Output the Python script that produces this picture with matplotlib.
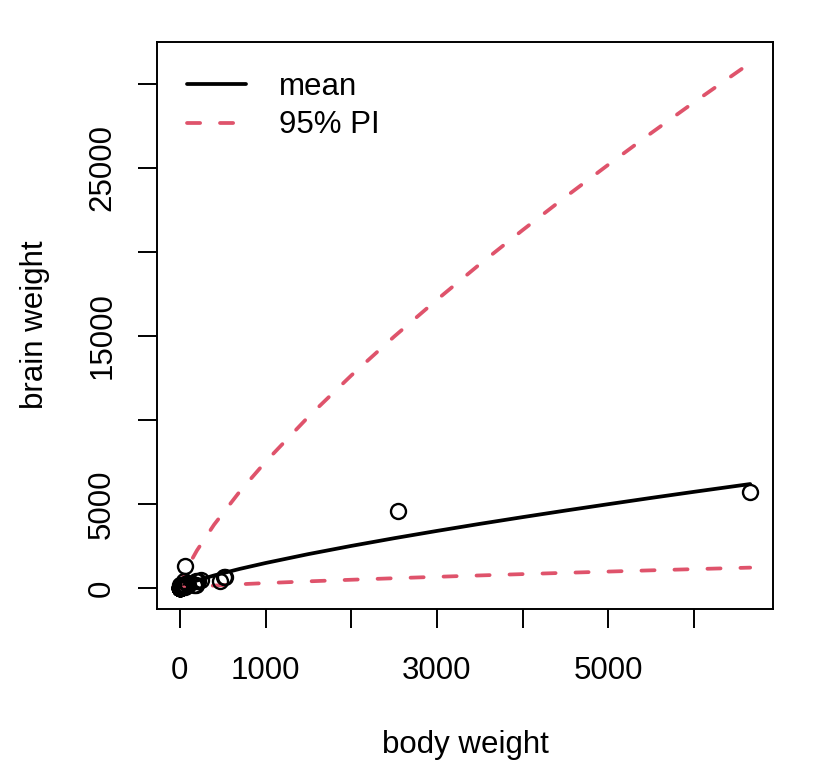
import numpy as np
import matplotlib.pyplot as plt

# ------------------------------------------------------------
# Data: mammals (body kg, brain g)
# ------------------------------------------------------------
body = [3.385, 0.48, 1.35, 465, 36.33, 27.66, 14.83, 1.04, 4.19, 0.425,
        0.101, 0.92, 1, 0.005, 0.06, 3.5, 2, 1.7, 2547, 0.023,
        187.1, 521, 0.785, 10, 3.3, 0.2, 1.41, 529, 207, 85,
        0.75, 62, 6654, 3.5, 6.8, 35, 4.05, 0.12, 0.023, 0.01,
        1.4, 250, 2.5, 55.5, 100, 52.16, 10.55, 0.55, 60, 3.6,
        4.288, 0.28, 0.075, 0.122, 0.048, 192, 3, 160, 0.9, 1.62,
        0.104, 4.235]
brain = [44.5, 15.5, 8.1, 423, 119.5, 115, 98.2, 5.5, 58, 6.4,
         4, 5.7, 6.6, 0.14, 1, 10.8, 12.3, 6.3, 4603, 0.3,
         419, 655, 3.5, 115, 25.6, 5, 17.5, 680, 406, 325,
         12.3, 1320, 5712, 3.9, 179, 56, 17, 1, 0.4, 0.25,
         12.5, 490, 12.1, 175, 157, 440, 179.5, 2.4, 81, 21,
         39.2, 1.9, 1.2, 3, 0.33, 180, 25, 169, 2.6, 11.4,
         2.5, 50.4]

# fitted curve
grid_x = [0, 5, 20, 50, 100, 200, 400, 700, 1000, 1500, 2000, 2500,
          3000, 3500, 4000, 4500, 5000, 5500, 6000, 6654]
mean_y = [0, 28, 79, 156, 263, 443, 747, 1138, 1487, 2018, 2505, 2963,
          3398, 3817, 4219, 4610, 4990, 5363, 5726, 6188]
upper_y = [0, 140, 396, 788, 1328, 2237, 3772, 5747, 7509, 10191, 12650,
           14963, 17160, 19276, 21306, 23281, 25200, 27083, 28916, 31249]
lower_y = [0, 5, 15, 31, 52, 87, 146, 223, 292, 396, 491, 581,
           666, 748, 827, 904, 978, 1052, 1123, 1213]

xticks = [0, 1000, 2000, 3000, 4000, 5000, 6000]
xlabels = ["0", "1000", "", "3000", "", "5000", ""]
yticks = [0, 5000, 10000, 15000, 20000, 25000, 30000]
ylabels = ["0", "5000", "", "15000", "", "25000", ""]

pink = "#DF536B"
fs = 22.5

plt.rcParams["font.family"] = ["Liberation Sans", "DejaVu Sans"]

# ------------------------------------------------------------
# Plot
# ------------------------------------------------------------
fig = plt.figure(figsize=(8.16, 7.68), dpi=100)
ax = fig.add_axes([157 / 816, 1 - 609 / 768, (773 - 157) / 816, (609 - 42) / 768])

ax.plot(body, brain, "o", mfc="none", mec="black", ms=10.8, mew=1.7,
        linestyle="none", zorder=3)
ax.plot(grid_x, mean_y, color="black", lw=2.7, solid_capstyle="round",
        label="mean", zorder=2)
ax.plot(grid_x, upper_y, color=pink, lw=2.7, dashes=(3.5, 5.3),
        dash_capstyle="round", label="95% PI", zorder=2)
ax.plot(grid_x, lower_y, color=pink, lw=2.7, dashes=(3.5, 5.3),
        dash_capstyle="round", zorder=2)

# R style 4% padding
xmin, xmax = min(body), max(body)
ymin = min(min(brain), min(lower_y))
ymax = max(max(brain), max(upper_y))
ax.set_xlim(xmin - 0.04 * (xmax - xmin), xmax + 0.04 * (xmax - xmin))
ax.set_ylim(ymin - 0.04 * (ymax - ymin), ymax + 0.04 * (ymax - ymin))

ax.set_xticks(xticks)
ax.set_xticklabels(xlabels, fontsize=fs)
ax.set_yticks(yticks)
ax.set_yticklabels(ylabels, fontsize=fs, rotation=90, va="center")
ax.tick_params(length=13.7, width=1.4, direction="out")
ax.tick_params(axis="y", pad=15)
ax.tick_params(axis="x", pad=20)
for s in ax.spines.values():
    s.set_linewidth(1.4)

fig.text(465 / 816, 1 - 745 / 768, "body weight", fontsize=fs,
         ha="center", va="center")
fig.text(35 / 816, 1 - 325 / 768, "brain weight", fontsize=fs,
         ha="center", va="center", rotation=90)

ax.legend(loc="upper left", frameon=False, fontsize=fs, handlelength=1.9,
          handletextpad=1.05, labelspacing=0.28, borderaxespad=0.45,
          borderpad=0.5)

fig.savefig("out.png", dpi=100)
